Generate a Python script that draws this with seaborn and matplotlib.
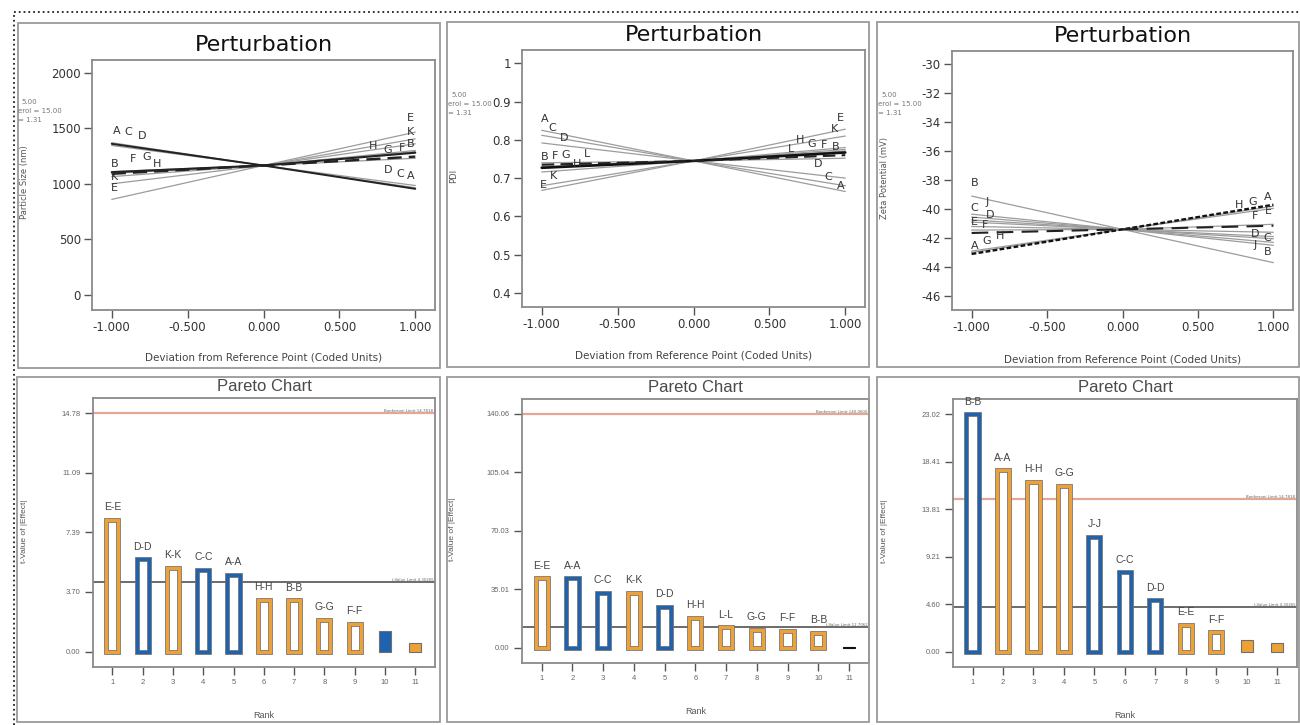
import numpy as np
import pandas as pd
import matplotlib
matplotlib.use("Agg")
import matplotlib.pyplot as plt
import seaborn as sns
from matplotlib.patches import Rectangle
from matplotlib.lines import Line2D

# ------------------------------------------------------------------
# data
# ------------------------------------------------------------------
factors = ["A", "B", "C", "D", "E", "F", "G", "H", "J", "K", "L"]
coded = [-1.0, 0.0, 1.0]
dev_ticks = [-1.0, -0.5, 0.0, 0.5, 1.0]

# perturbation: response at -1 (low), 0 (center), +1 (high)
size_low = [1360, 1065, 1370, 1345, 860, 1095, 1105, 1100, 1090, 1000, 1110]
size_high = [955, 1360, 965, 985, 1465, 1290, 1280, 1300, 1245, 1405, 1230]
size_center = 1165
size_ticks = [0, 500, 1000, 1500, 2000]

pdi_low = [0.825, 0.727, 0.812, 0.792, 0.668, 0.729, 0.730, 0.716, 0.740, 0.680, 0.735]
pdi_high = [0.665, 0.767, 0.680, 0.700, 0.828, 0.771, 0.775, 0.780, 0.752, 0.810, 0.760]
pdi_center = 0.745
pdi_ticks = [0.4, 0.5, 0.6, 0.7, 0.8, 0.9, 1.0]
pdi_tick_labels = ["0.4", "0.5", "0.6", "0.7", "0.8", "0.9", "1"]

zeta_low = [-43.1, -39.1, -40.55, -40.75, -41.45, -41.65, -43.0, -42.9, -40.35, -40.9, -41.2]
zeta_high = [-39.7, -43.7, -42.3, -42.05, -41.05, -41.15, -39.8, -39.95, -42.5, -41.9, -41.6]
zeta_center = -41.4
zeta_ticks = [-46, -44, -42, -40, -38, -36, -34, -32, -30]

# pareto charts (t-value of |effect| by rank, sign of effect)
ranks = list(range(1, 12))

p1_terms = ["E-E", "D-D", "K-K", "C-C", "A-A", "H-H", "B-B", "G-G", "F-F", "", ""]
p1_t = [8.15, 5.72, 5.20, 5.08, 4.77, 3.21, 3.17, 1.97, 1.72, 1.26, 0.52]
p1_sign = [1, -1, 1, -1, -1, 1, 1, 1, 1, -1, 1]
p1_bonf, p1_tlim = 14.7818, 4.30265
p1_yticks = [0.00, 3.70, 7.39, 11.09, 14.78]

p2_terms = ["E-E", "A-A", "C-C", "K-K", "D-D", "H-H", "L-L", "G-G", "F-F", "B-B", ""]
p2_t = [41.7, 41.6, 33.1, 32.9, 24.4, 17.9, 12.3, 10.7, 10.3, 8.9, 0.6]
p2_sign = [1, -1, -1, 1, -1, 1, 1, 1, 1, 1, 0]
p2_bonf, p2_tlim = 140.06, 12.7062
p2_yticks = [0.00, 35.01, 70.03, 105.04, 140.06]

p3_terms = ["B-B", "A-A", "H-H", "G-G", "J-J", "C-C", "D-D", "E-E", "F-F", "", ""]
p3_t = [23.02, 17.59, 16.45, 16.09, 11.15, 7.68, 4.97, 2.60, 1.88, 1.14, 0.81]
p3_sign = [-1, 1, 1, 1, -1, -1, -1, 1, 1, 1, 1]
p3_bonf, p3_tlim = 14.7818, 4.30265
p3_yticks = [0.00, 4.60, 9.21, 13.81, 18.41, 23.02]

legend_lines = ["5.00", "erol = 15.00", "= 1.31"]

# ------------------------------------------------------------------
# style
# ------------------------------------------------------------------
sns.set_theme(style="ticks")
plt.rcParams["font.family"] = ["DejaVu Sans"]
NARROW = ["Liberation Sans Narrow", "Liberation Sans", "DejaVu Sans"]
ORANGE, BLUE, GREY_LINE = "#EDA136", "#1F63AE", "#9c9c9c"

W, H = 1300, 725
fig = plt.figure(figsize=(13, 7.25), dpi=100)


def frac(x, y):
    return x / W, 1 - y / H


def axes_rect(x0, y0, x1, y1):
    return [x0 / W, 1 - y1 / H, (x1 - x0) / W, (y1 - y0) / H]


def frame(x0, y0, x1, y1):
    fig.add_artist(Rectangle(frac(x0, y1), (x1 - x0) / W, (y1 - y0) / H,
                             transform=fig.transFigure, fill=False,
                             ec="#9a9a9a", lw=1.3))


def style_axes(ax):
    for s in ax.spines.values():
        s.set_visible(True)
        s.set_color("#8a8a8a")
        s.set_linewidth(1.3)


def perturbation(rect, low, center, high, ylim, yticks, ytlabels, ylabel,
                 heavy, labels, title_px):
    ax = fig.add_axes(rect)
    rows = [(f, x, y) for f, lo, hi in zip(factors, low, high)
            for x, y in zip(coded, [lo, center, hi])]
    df = pd.DataFrame(rows, columns=["factor", "x", "y"])
    sns.lineplot(data=df[~df.factor.isin(heavy)], x="x", y="y", units="factor",
                 estimator=None, color=GREY_LINE, lw=0.9, ax=ax)
    for f, (c, lw, ls) in heavy.items():
        sns.lineplot(data=df[df.factor == f], x="x", y="y", estimator=None,
                     color=c, lw=lw, linestyle=ls, ax=ax)
    for f, xa, dy in labels:
        i = factors.index(f)
        ya = np.interp(xa, coded, [low[i], center, high[i]])
        ax.annotate(f, (xa, ya), xytext=(0, dy), textcoords="offset points",
                    ha="center", va="bottom", fontsize=8, color="#333")
    ax.set_xlim(-1.13, 1.13)
    ax.set_ylim(*ylim)
    ax.set_xticks(dev_ticks, [f"{t:.3f}" for t in dev_ticks])
    ax.set_yticks(yticks, ytlabels)
    ax.tick_params(direction="out", length=5.5, width=1, color="#555",
                   labelsize=8.5, labelcolor="#333", pad=2.5)
    style_axes(ax)
    ax.set_xlabel("Deviation from Reference Point (Coded Units)", fontsize=7.5,
                  color="#444")
    ax.xaxis.set_label_coords(0.5, -0.17)
    ax.set_ylabel(ylabel, fontsize=6, color="#555")
    ax.yaxis.set_label_coords(-0.185, 0.51)
    ax.annotate("Perturbation", (0.5, 1), xycoords="axes fraction",
                xytext=(0, title_px * 0.72), textcoords="offset points",
                ha="center", va="center", fontsize=16, color="#111")
    return ax


def pareto(rect, terms, tvals, signs, bonf, tlim, yticks, hollow_n):
    ax = fig.add_axes(rect)
    colors = [ORANGE if s > 0 else BLUE if s < 0 else "#111" for s in signs]
    ax.axhline(bonf, color="#E4A796", lw=1.6, zorder=0.5)
    ax.axhline(tlim, color="#444", lw=1.1, zorder=0.5)
    sns.barplot(x=ranks, y=tvals, native_scale=True, width=0.40, color="white",
                errorbar=None, ax=ax)
    n0 = len(ax.patches)
    sns.barplot(x=ranks, y=tvals, native_scale=True, width=0.40, color="white",
                errorbar=None, ax=ax)
    under, over = ax.patches[:n0], ax.patches[n0:]
    for k, (pu, po, c) in enumerate(zip(under, over, colors)):
        if k < hollow_n:
            pu.set_facecolor("white")
            pu.set_edgecolor("#707070")
            pu.set_linewidth(3.4)
            po.set_facecolor("none")
            po.set_edgecolor(c)
            po.set_linewidth(2.3)
        else:
            pu.set_facecolor(c)
            pu.set_edgecolor("#707070" if c != "#111" else c)
            pu.set_linewidth(0.8)
            po.set_visible(False)
    for r, v, t in zip(ranks, tvals, terms):
        if t:
            ax.annotate(t, (r, v), xytext=(0, 5.5), textcoords="offset points",
                        ha="center", va="bottom", fontsize=7.5, color="#444",
                        family=NARROW)
    tr = ax.get_yaxis_transform()
    ax.text(0.995, bonf, f"Bonferroni Limit {bonf:.4f}", transform=tr,
            ha="right", va="bottom", fontsize=2.8, color="#666")
    ax.text(0.995, tlim, f"t-Value Limit {tlim:g}", transform=tr,
            ha="right", va="bottom", fontsize=2.8, color="#666")
    top = yticks[-1]
    ax.set_ylim(-0.065 * top, 1.064 * top)
    ax.set_xlim(0.36, 11.65)
    ax.set_xticks(ranks, [str(r) for r in ranks])
    ax.set_yticks(yticks, [f"{t:.2f}" for t in yticks])
    ax.tick_params(direction="out", length=5.5, width=1, color="#555",
                   labelsize=5.5, labelcolor="#666", pad=3.5)
    for lab in ax.get_xticklabels() + ax.get_yticklabels():
        lab.set_family(NARROW)
    style_axes(ax)
    ax.set_xlabel("Rank", fontsize=6.5, color="#555", family=NARROW)
    ax.xaxis.set_label_coords(0.5, -0.165)
    ax.set_ylabel("t-Value of |Effect|", fontsize=6, color="#555", family=NARROW)
    ax.yaxis.set_label_coords(-0.19, 0.505)
    ax.annotate("Pareto Chart", (0.5, 1), xycoords="axes fraction",
                xytext=(0, 8.3), textcoords="offset points", ha="center",
                va="center", fontsize=12, color="#4a4a4a", family=NARROW)
    return ax


# outer dotted border and panel frames
fig.add_artist(Line2D([14 / W, 1], [1 - 12 / H] * 2, transform=fig.transFigure,
                      ls=":", color="#222", lw=1.3))
fig.add_artist(Line2D([14 / W] * 2, [0, 1 - 12 / H], transform=fig.transFigure,
                      ls=":", color="#222", lw=1.3))
for box in [(18, 23, 440, 368), (447, 22, 869, 367), (877, 22, 1299, 367),
            (17, 377, 440, 722), (447, 377, 869, 722), (877, 377, 1299, 722)]:
    frame(*box)

# legend fragments cut off at the left of each perturbation panel
for x0, y0 in [(18, 102), (448, 95), (878, 95)]:
    for k, txt in enumerate(legend_lines):
        fig.text(*frac(x0 + (3 if k == 0 else 0), y0 + 9 * k), txt,
                 fontsize=5, color="#777", va="center", ha="left")

perturbation(axes_rect(92, 60, 435, 310), size_low, size_center, size_high,
             (-135, 2114), size_ticks, [str(t) for t in size_ticks],
             "Particle Size (nm)",
             {"A": ("#222", 1.4, "-"), "G": ("#222", 1.5, "-"),
              "J": ("#222", 1.7, (0, (6, 3)))},
             [("A", -0.97, 6), ("C", -0.89, 6), ("D", -0.8, 6),
              ("F", -0.86, 6), ("G", -0.77, 6), ("H", -0.7, 1),
              ("B", -0.98, 5), ("K", -0.98, 1), ("E", -0.98, 4),
              ("E", 0.97, 7), ("K", 0.97, 2), ("B", 0.97, -3),
              ("H", 0.72, 3), ("G", 0.82, 0), ("F", 0.91, 0),
              ("D", 0.82, 5), ("C", 0.9, 5), ("A", 0.97, 5)],
             title_px=15)

perturbation(axes_rect(522, 50, 865, 307), pdi_low, pdi_center, pdi_high,
             (0.363, 1.035), pdi_ticks, pdi_tick_labels, "PDI",
             {"B": ("#111", 1.9, "-"), "L": ("#222", 1.5, (0, (6, 3)))},
             [("A", -0.98, 5), ("C", -0.93, 3), ("D", -0.85, 2),
              ("B", -0.98, 4), ("F", -0.91, 4), ("G", -0.84, 4),
              ("H", -0.77, 0), ("L", -0.7, 3), ("K", -0.92, 2),
              ("E", -0.99, 0),
              ("E", 0.97, 5), ("K", 0.93, 3), ("L", 0.64, 2),
              ("H", 0.7, 5), ("G", 0.78, 2), ("F", 0.86, 2), ("B", 0.94, 1),
              ("D", 0.82, 4), ("C", 0.89, 1), ("A", 0.97, 0)],
             title_px=15)

perturbation(axes_rect(952, 51, 1293, 310), zeta_low, zeta_center, zeta_high,
             (-46.97, -29.08), zeta_ticks, [str(t) for t in zeta_ticks],
             "Zeta Potential (mV)",
             {"A": ("#111", 1.7, (0, (2, 1))), "F": ("#222", 1.5, (0, (8, 4)))},
             [("B", -0.98, 6), ("C", -0.98, 3), ("J", -0.9, 6),
              ("D", -0.88, 1), ("E", -0.98, 2), ("F", -0.91, 2),
              ("A", -0.98, 2), ("G", -0.9, 3), ("H", -0.81, 4),
              ("H", 0.77, 2), ("G", 0.86, 2), ("A", 0.96, 3),
              ("F", 0.88, 4), ("E", 0.97, 6), ("D", 0.88, -1),
              ("C", 0.96, -1), ("J", 0.88, -5), ("B", 0.96, 3)],
             title_px=15)

pareto(axes_rect(93, 398, 435, 667), p1_terms, p1_t, p1_sign, p1_bonf, p1_tlim,
       p1_yticks, hollow_n=9)
pareto(axes_rect(522, 399, 869, 663), p2_terms, p2_t, p2_sign, p2_bonf, p2_tlim,
       p2_yticks, hollow_n=10)
pareto(axes_rect(953, 399, 1297, 667), p3_terms, p3_t, p3_sign, p3_bonf, p3_tlim,
       p3_yticks, hollow_n=9)

fig.savefig("out.png", dpi=100, facecolor="white")
